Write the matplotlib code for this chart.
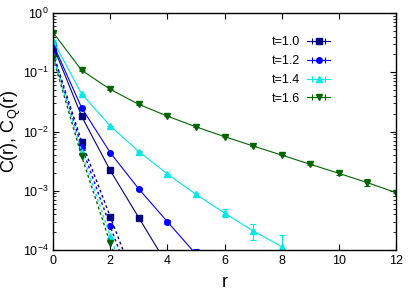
import numpy as np
import matplotlib
matplotlib.use("Agg")
import matplotlib.pyplot as plt

plt.rcParams['font.family'] = ['Liberation Sans', 'DejaVu Sans']
plt.rcParams['mathtext.fontset'] = 'custom'
plt.rcParams['mathtext.rm'] = 'Liberation Sans'
plt.rcParams['mathtext.it'] = 'Liberation Sans:italic'

labels = ["t=1.0", "t=1.2", "t=1.4", "t=1.6"]
colors = ["#000080", "#0000ff", "#00e8e8", "#006400"]
markers = ["s", "o", "^", "v"]

# C_Q(r) (solid)
rq_10 = [0, 1, 2, 3, 4]
cq_10 = [0.28, 0.018, 2.2e-3, 3.5e-4, 5.6e-5]
eq_10 = [0.005, 0.0005, 5e-5, 2e-5, 1e-5]

rq_12 = [0, 1, 2, 3, 4, 5]
cq_12 = [0.30, 0.025, 4.4e-3, 1.07e-3, 3.0e-4, 8.5e-5]
eq_12 = [0.005, 0.0005, 8e-5, 3e-5, 2.5e-5, 2e-5]

rq_14 = [0, 1, 2, 3, 4, 5, 6, 7, 8]
cq_14 = [0.34, 0.043, 0.0124, 4.6e-3, 1.92e-3, 8.7e-4, 4.2e-4, 2.1e-4, 1.14e-4]
eq_14 = [0.005, 0.0005, 1e-4, 5e-5, 3e-5, 4e-5, 6.5e-5, 6.5e-5, 6.5e-5]

rq_16 = [0, 1, 2, 3, 4, 5, 6, 7, 8, 9, 10, 11, 12]
cq_16 = [0.47, 0.108, 0.0515, 0.0288, 0.0182, 0.012, 0.0082, 0.0057,
         0.0040, 0.0028, 0.00197, 0.00137, 0.00093]
eq_16 = [0.005, 0.001, 5e-4, 3e-4, 2e-4, 1e-4, 8e-5, 6e-5,
         5e-5, 6e-5, 9e-5, 1.8e-4, 1e-4]

# C(r) (dashed)
rc = [0, 1, 2, 3]
c_10 = [0.21, 6.7e-3, 3.65e-4, 2.0e-5]
c_12 = [0.20, 5.5e-3, 2.5e-4, 1.3e-5]
c_14 = [0.19, 4.5e-3, 1.7e-4, 8e-6]
c_16 = [0.175, 3.8e-3, 1.3e-4, 6e-6]

solid = [(rq_10, cq_10, eq_10), (rq_12, cq_12, eq_12),
         (rq_14, cq_14, eq_14), (rq_16, cq_16, eq_16)]
dashed = [c_10, c_12, c_14, c_16]

fig = plt.figure(figsize=(4.15, 2.91), dpi=100)
ax = fig.add_axes([0.128, 0.141, 0.826, 0.814])

handles = []
for (r, c, e), cd, col, m, lab in zip(solid, dashed, colors, markers, labels):
    ax.plot(rc, cd, linestyle=(0, (2.0, 2.0)), color=col, lw=1.0,
            marker=m, markersize=4, markevery=[0, 1, 2])
    ax.errorbar(r, c, yerr=e, fmt='-', color=col, lw=0.8, ecolor=col,
                elinewidth=0.8, capsize=2, capthick=0.8,
                marker=m, markersize=4)
    h = ax.errorbar([np.nan], [np.nan], xerr=[1], fmt='-', color=col,
                    lw=0.8, elinewidth=0.8, capsize=2, capthick=0.8,
                    marker=m, markersize=4, label=lab)
    handles.append(h)

ax.set_yscale('log')
ax.set_xlim(0, 12)
ax.set_ylim(1e-4, 1)
ax.set_xticks(range(0, 13, 2))
ax.tick_params(which='both', direction='in', top=True, right=True,
               labelsize=9)
ax.tick_params(which='major', length=4)
ax.tick_params(which='minor', length=2)
for s in ax.spines.values():
    s.set_linewidth(1.0)

ax.set_xlabel('r', fontsize=13)
ax.set_ylabel(r'C(r), C$_{\mathrm{Q}}$(r)', fontsize=13)
ax.yaxis.set_label_coords(-0.088, 0.5)
ax.xaxis.set_label_coords(0.5, -0.1)

ax.legend(handles=handles, labels=labels, loc='upper right',
          bbox_to_anchor=(0.84, 0.95), frameon=False, markerfirst=False,
          fontsize=9, handlelength=1.8, labelspacing=0.55, handletextpad=0.6)

fig.savefig('out.png', dpi=100)
